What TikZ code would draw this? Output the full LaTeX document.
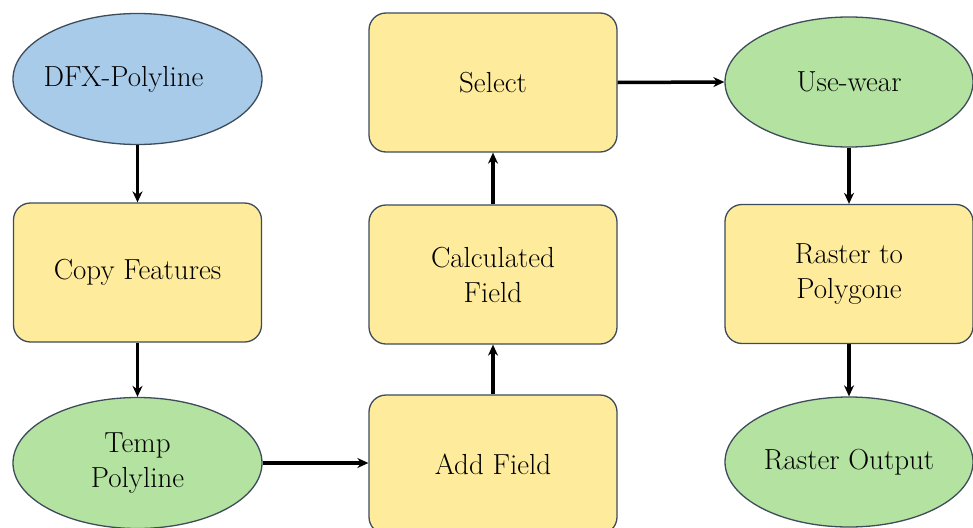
\documentclass[tikz,border=0pt]{standalone}
\usetikzlibrary{shapes.geometric,arrows.meta}
\definecolor{inblue}{HTML}{A8CBEA}
\definecolor{toolyellow}{HTML}{FEEC9C}
\definecolor{outgreen}{HTML}{B3E2A1}
\definecolor{edge}{HTML}{3E4C5A}
\tikzset{
  x=1pt, y=1pt,
  every node/.style={font=\fontsize{29}{35}\selectfont, align=center, draw=edge, line width=1.3pt, inner sep=0pt},
  oval/.style={ellipse, minimum width=249pt, minimum height=131pt},
  inputoval/.style={oval, fill=inblue},
  outputoval/.style={oval, fill=outgreen},
  toolbox/.style={rectangle, rounded corners=17pt, fill=toolyellow, minimum width=248pt, minimum height=139pt},
  flow/.style={draw=black, line width=3.5pt, -{Stealth[length=11pt,width=10pt]}}
}
\begin{document}
\begin{tikzpicture}
\useasboundingbox (0,0) rectangle (973,-527);
\node[inputoval]  (dfx)    at (137.5,-79)  {\makebox[0pt]{\raisebox{5pt}{DFX-Polyline}\hspace*{28pt}}};
\node[toolbox]    (copy)   at (137.5,-272.5) {Copy Features};
\node[outputoval] (temp)   at (137.5,-463) {Temp\\Polyline};
\node[toolbox]    (add)    at (493,-464.5) {Add Field};
\node[toolbox]    (calc)   at (493,-274.5) {Calculated\\Field};
\node[toolbox]    (select) at (493,-82.5)  {Select};
\node[outputoval, minimum width=248pt, minimum height=130pt] (use) at (849,-82) {Use-wear};
\node[toolbox]    (raster) at (849,-274)   {Raster to\\Polygone};
\node[outputoval, minimum width=248pt, minimum height=130pt] (rout) at (849,-462) {Raster Output};

\draw[flow] (dfx.south) -- (copy.north);
\draw[flow] (copy.south) -- (temp.north);
\draw[flow] (temp.east) -- (temp.east -| add.west);
\draw[flow] (add.north) -- (calc.south);
\draw[flow] (calc.north) -- (select.south);
\draw[flow] (select.east) -- (use.west);
\draw[flow] (use.south) -- (raster.north);
\draw[flow] (raster.south) -- (rout.north);
\end{tikzpicture}
\end{document}
